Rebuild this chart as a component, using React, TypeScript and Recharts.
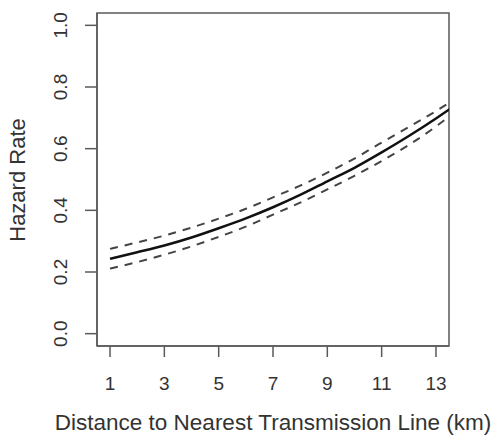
import { LineChart, Line, XAxis, YAxis, ReferenceArea } from 'recharts';

const distance = [1, 2, 3, 4, 5, 6, 7, 8, 9, 10, 11, 12, 13, 13.5];
const hazard = [0.243, 0.264, 0.286, 0.312, 0.342, 0.374, 0.41, 0.45, 0.494, 0.538, 0.588, 0.641, 0.698, 0.728];
const upperCI = [0.275, 0.296, 0.318, 0.344, 0.373, 0.405, 0.442, 0.48, 0.522, 0.568, 0.62, 0.67, 0.722, 0.75];
const lowerCI = [0.211, 0.232, 0.256, 0.283, 0.314, 0.347, 0.386, 0.425, 0.468, 0.512, 0.56, 0.612, 0.672, 0.705];
const xTicks = [1, 3, 5, 7, 9, 11, 13];
const yTicks = [0, 0.2, 0.4, 0.6, 0.8, 1.0];
const xRange = [0.52, 13.48];
const yRange = [-0.04, 1.04];

const data = distance.map((d, i) => ({ d, hazard: hazard[i], upper: upperCI[i], lower: lowerCI[i] }));

const AXIS = '#5a5a5a';
const FONT = '"Liberation Sans", Arial, sans-serif';

const XTick = ({ x, y, payload }: any) => (
  <text x={x} y={y + 31} textAnchor="middle" fontSize={19} fill="#333" fontFamily={FONT}>
    {payload.value}
  </text>
);

const YTick = ({ x, y, payload }: any) => (
  <text
    x={x - 16}
    y={y}
    transform={`rotate(-90, ${x - 16}, ${y})`}
    textAnchor="middle"
    fontSize={19}
    fill="#333"
    fontFamily={FONT}
  >
    {payload.value.toFixed(1)}
  </text>
);

export default function App() {
  return (
    <div style={{ position: 'absolute', left: 0, top: 0, background: '#fff' }}>
      <LineChart width={496} height={436} data={data} margin={{ top: 13, right: 47, bottom: 30, left: 0 }}>
        <XAxis
          dataKey="d"
          type="number"
          domain={xRange}
          allowDataOverflow
          ticks={xTicks}
          tick={<XTick />}
          tickSize={11}
          height={60}
          stroke={AXIS}
          strokeWidth={1.5}
        />
        <YAxis
          type="number"
          domain={yRange}
          allowDataOverflow
          ticks={yTicks}
          tick={<YTick />}
          tickSize={12}
          width={97}
          stroke={AXIS}
          strokeWidth={1.5}
        />
        <ReferenceArea
          x1={xRange[0]}
          x2={xRange[1]}
          y1={yRange[0]}
          y2={yRange[1]}
          fill="none"
          stroke={AXIS}
          strokeWidth={1.5}
          ifOverflow="visible"
        />
        <Line type="monotone" dataKey="upper" stroke="#444" strokeWidth={2} strokeDasharray="8 7" dot={false} isAnimationActive={false} />
        <Line type="monotone" dataKey="lower" stroke="#444" strokeWidth={2} strokeDasharray="8 7" dot={false} isAnimationActive={false} />
        <Line type="monotone" dataKey="hazard" stroke="#111" strokeWidth={2.5} dot={false} isAnimationActive={false} />
        <text x={25} y={180} transform="rotate(-90, 25, 180)" textAnchor="middle" fontSize={22} fill="#333" fontFamily={FONT}>
          Hazard Rate
        </text>
        <text x={273} y={430} textAnchor="middle" fontSize={22.5} fill="#333" fontFamily={FONT}>
          Distance to Nearest Transmission Line (km)
        </text>
      </LineChart>
    </div>
  );
}
